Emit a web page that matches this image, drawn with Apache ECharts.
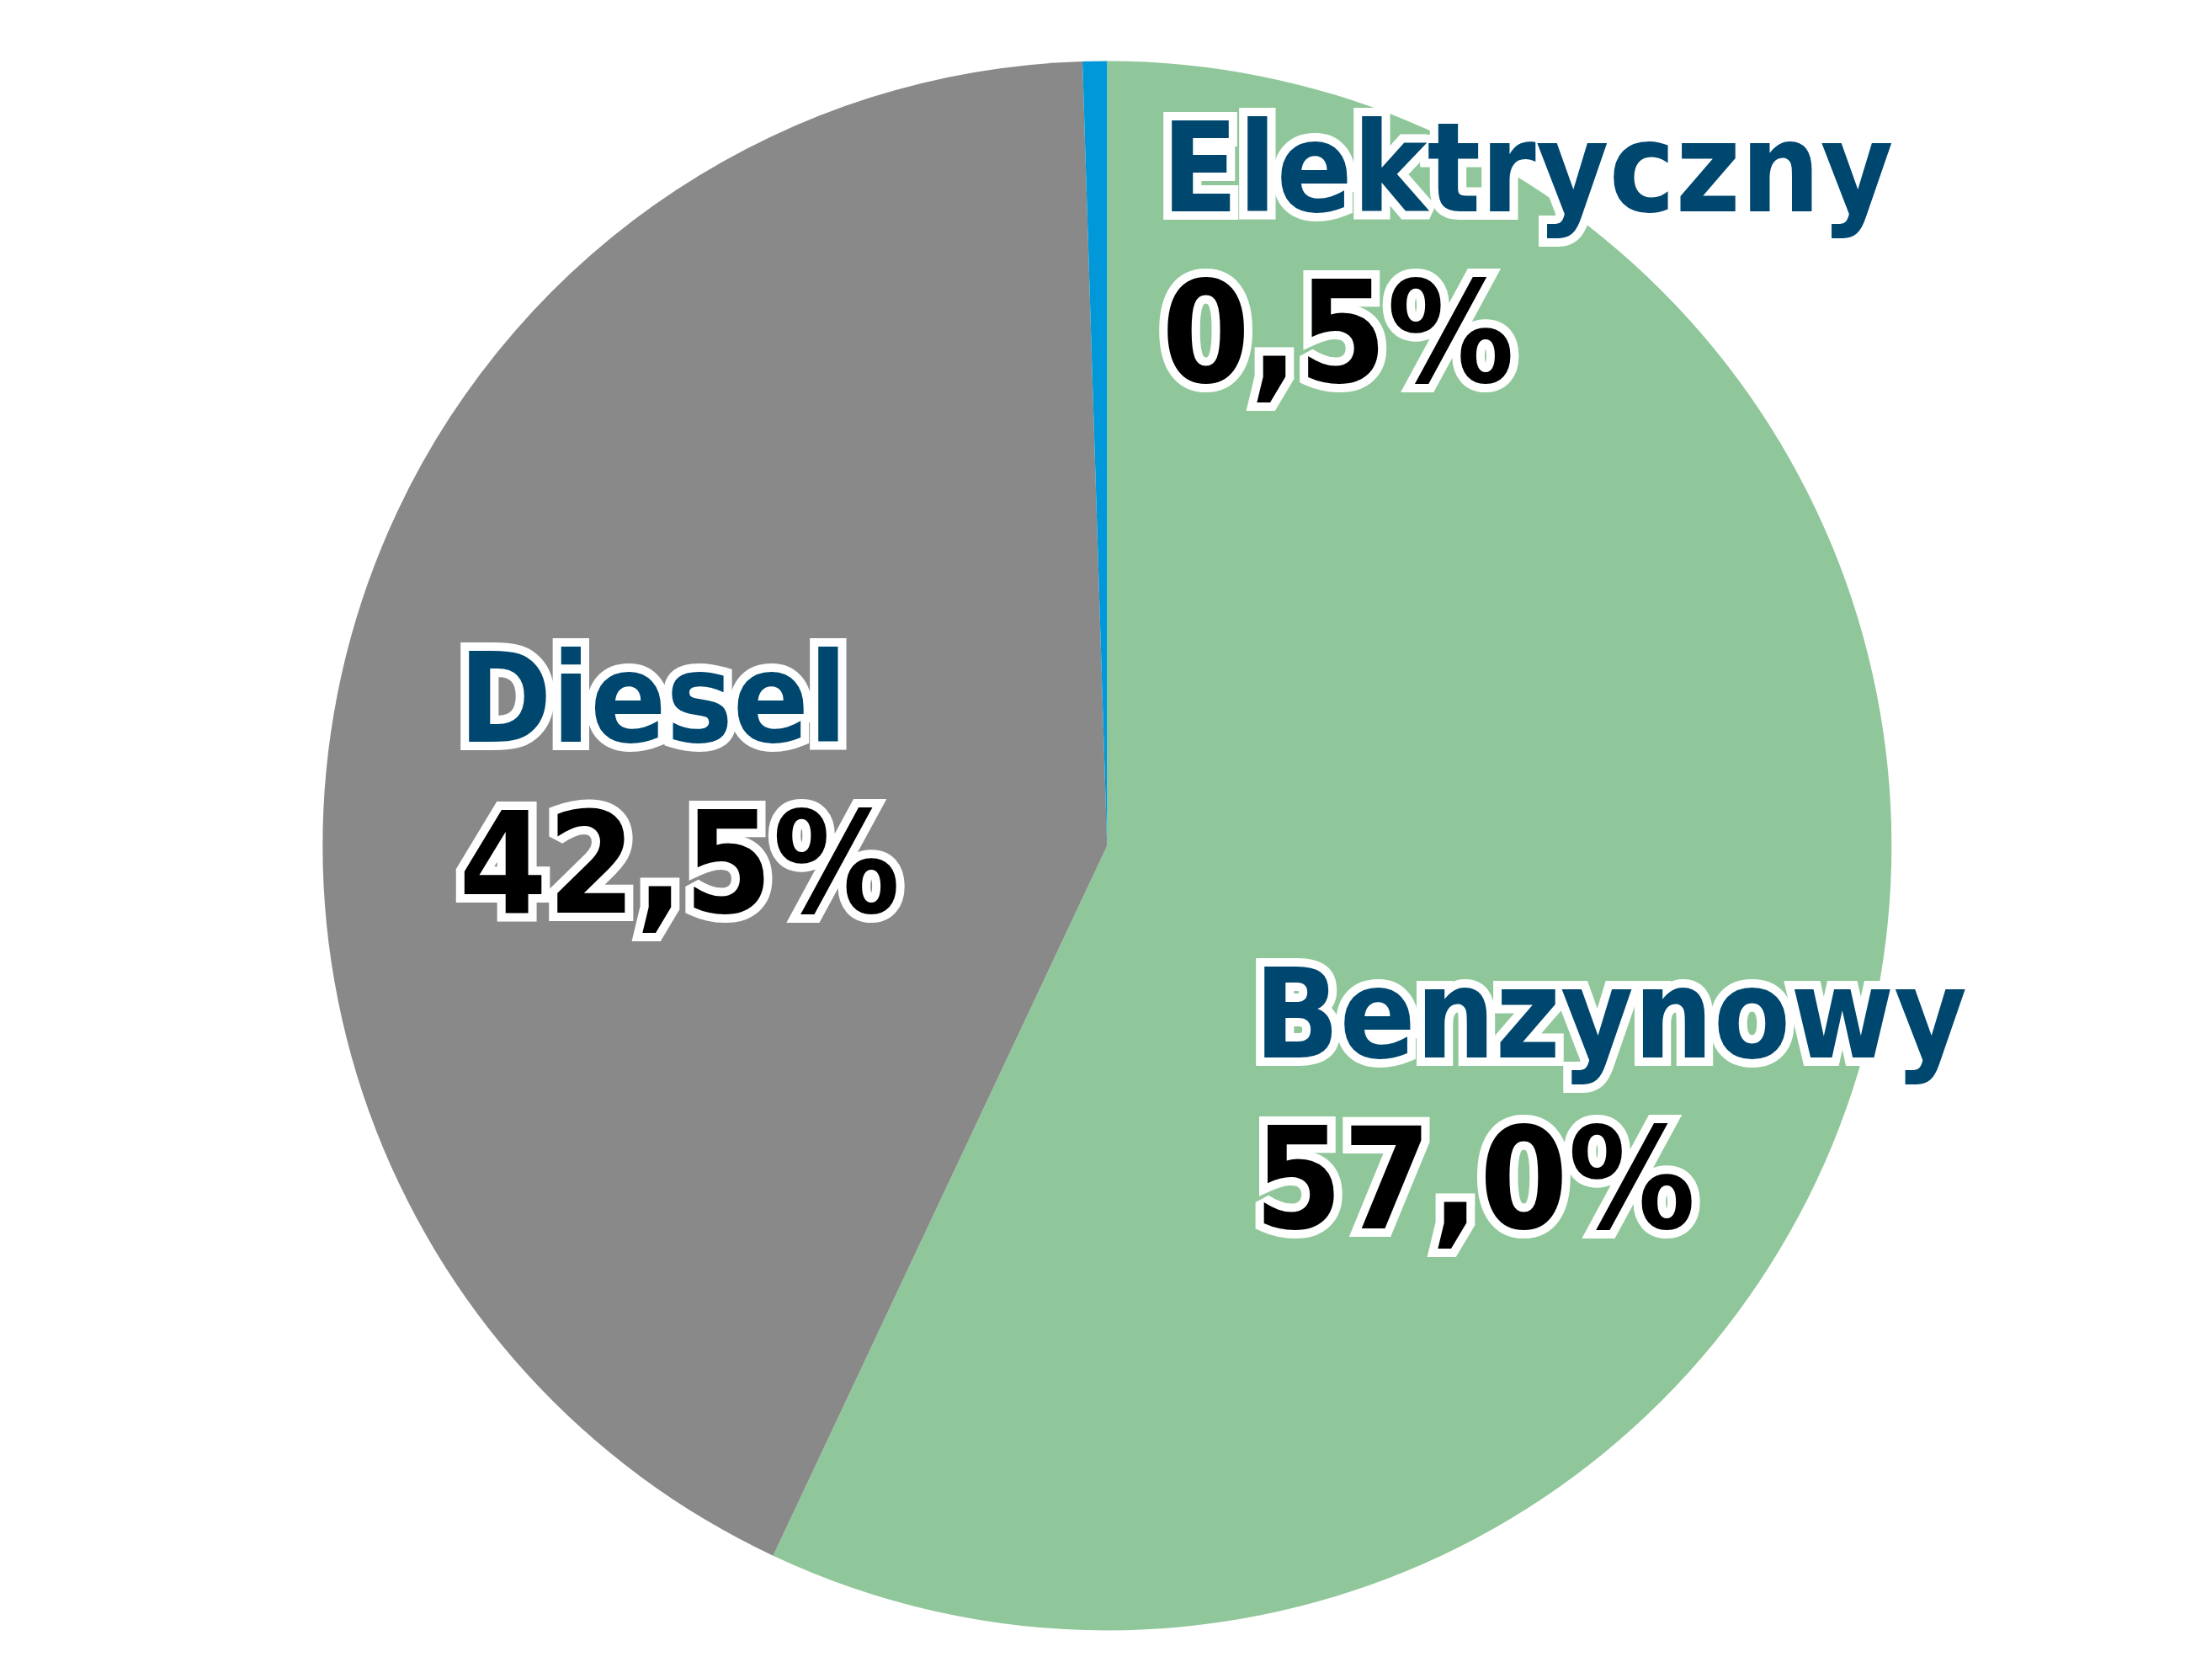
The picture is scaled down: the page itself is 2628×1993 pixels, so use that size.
<!DOCTYPE html>
<html><head><meta charset="utf-8">
<script src="https://cdn.jsdelivr.net/npm/echarts@6/dist/echarts.min.js"></script>
<style>html,body{margin:0;padding:0;background:#fff}#c{width:2628px;height:1993px}</style>
</head><body><div id="c"></div>
<script>
const categories = ['Benzynowy', 'Diesel', 'Elektryczny'];
const values = [57.0, 42.5, 0.5];
const valueLabels = ['57,0%', '42,5%', '0,5%'];
const colors = ['#8fc79a', '#898989', '#0098d8'];
const labelPos = [[1490, 1120], [545, 745], [1380, 115]];
const chart = echarts.init(document.getElementById('c'));
const font = '"Liberation Sans Narrow", "DejaVu Sans Condensed", "Roboto Condensed", sans-serif';
chart.setOption({
  animation: false,
  series: [{
    type: 'pie', center: ['50.05%', '50.4%'], radius: 932, startAngle: 90, clockwise: true,
    data: categories.map((c, i) => ({ name: c, value: values[i], itemStyle: { color: colors[i] } })),
    labelLine: { show: false },
    label: {
      show: true, position: 'inside',
      formatter: p => '{n|' + p.name + '}\n{v|' + valueLabels[p.dataIndex] + '}',
      rich: {
        n: { fontFamily: font, fontWeight: 'bold', fontSize: 148, color: '#00476f', textBorderColor: '#fff', textBorderWidth: 20, lineHeight: 195 },
        v: { fontFamily: font, fontWeight: 'bold', fontSize: 168, color: '#000', textBorderColor: '#fff', textBorderWidth: 20, lineHeight: 200 }
      }
    },
    labelLayout: p => ({ x: labelPos[p.dataIndex][0], y: labelPos[p.dataIndex][1], align: 'left', verticalAlign: 'top' })
  }]
});
</script></body></html>
